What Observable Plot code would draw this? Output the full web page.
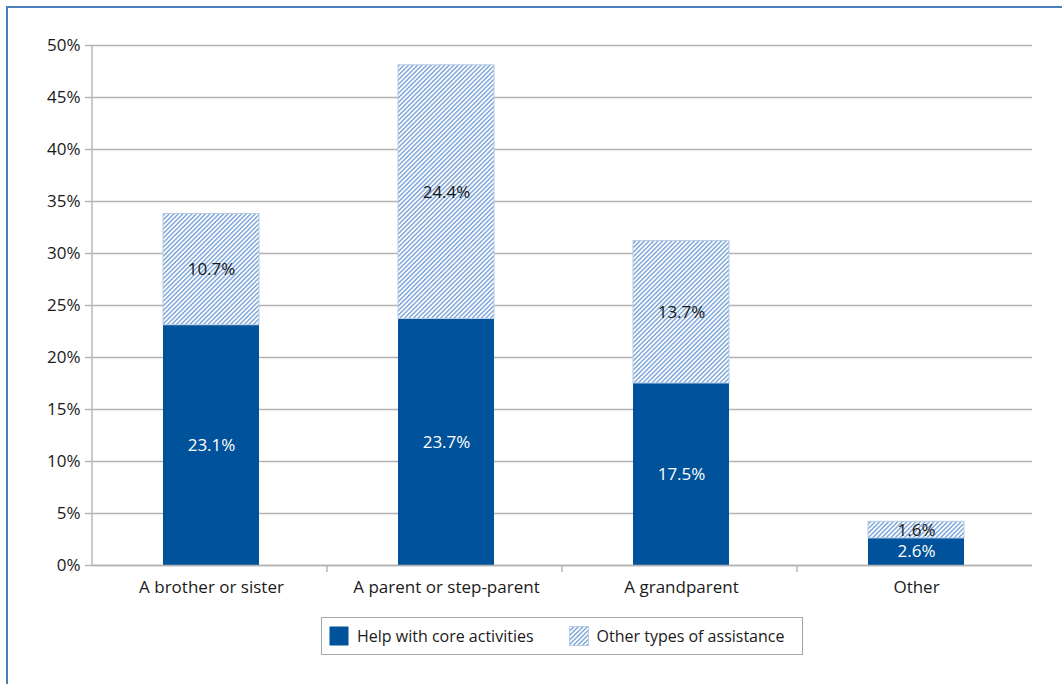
<!DOCTYPE html>
<html>
<head>
<meta charset="utf-8">
<script src="https://cdn.jsdelivr.net/npm/d3@7"></script>
<script src="https://cdn.jsdelivr.net/npm/@observablehq/plot@0.6"></script>
<style>
  html, body { margin: 0; padding: 0; background: #fff; }
  #wrap { position: relative; width: 1062px; height: 684px; overflow: hidden; font-family: "Open Sans", sans-serif; }
  #border { position: absolute; left: 6px; top: 6px; width: 1100px; height: 720px; border: 2px solid #4a7ebb; box-sizing: border-box; }
  #chart { position: absolute; left: 0; top: 0; }
  #legend { position: absolute; left: 321px; top: 617px; width: 482px; height: 38px; box-sizing: border-box;
    border: 1px solid #a6a6a6; display: flex; align-items: center; font-size: 16px; color: #1a1a1a; background: #fff; }
  .item { display: flex; align-items: center; }
  .item svg { display: block; margin-right: 8px; }
</style>
</head>
<body>
<div id="wrap">
  <div id="border"></div>
  <div id="chart"></div>
  <div id="legend"></div>
</div>
<script>
const categories = ["A brother or sister", "A parent or step-parent", "A grandparent", "Other"];
const coreValues = [23.1, 23.7, 17.5, 2.6];
const otherValues = [10.7, 24.4, 13.7, 1.6];
const seriesNames = ["Help with core activities", "Other types of assistance"];
const yTicks = [0, 5, 10, 15, 20, 25, 30, 35, 40, 45, 50];

const DARK = "#00529b";
const HATCH = "#5a8fd0";

const rows = [];
categories.forEach((c, i) => {
  rows.push({cat: c, series: seriesNames[0], y1: 0, y2: coreValues[i], v: coreValues[i]});
  rows.push({cat: c, series: seriesNames[1], y1: coreValues[i], y2: coreValues[i] + otherValues[i], v: otherValues[i]});
});
const coreRows = rows.filter(d => d.series === seriesNames[0]);
const otherRows = rows.filter(d => d.series === seriesNames[1]);

const W = 1062, H = 600;
const mL = 92, mR = 30;
const step = (W - mL - mR) / categories.length;
const barShift = 2;

const chart = Plot.plot({
  width: W,
  height: H,
  marginLeft: mL,
  marginRight: mR,
  marginTop: 45,
  marginBottom: 35,
  style: {fontFamily: "'Open Sans', sans-serif", fontSize: "17px", color: "#1a1a1a", background: "transparent"},
  x: {domain: categories, paddingInner: 0.59, paddingOuter: 0.295, label: null},
  y: {domain: [0, 50], label: null},
  marks: [
    Plot.gridY(yTicks, {stroke: "#b3b3b3", strokeOpacity: 1, strokeWidth: 1.4}),
    Plot.ruleX([categories[0]], {x: d => d, dx: -step / 2, stroke: "#b3b3b3", strokeWidth: 1.4}),
    Plot.ruleX(categories.slice(0, -1), {x: d => d, dx: step / 2, stroke: "#b3b3b3", strokeWidth: 1.4, insetTop: 520, insetBottom: -7}),
    Plot.axisY(yTicks, {tickSize: 7, tickPadding: 5, stroke: "#b3b3b3", strokeWidth: 1.4, fill: "#1a1a1a", tickFormat: d => d + "%", fontSize: 17, label: null}),
    Plot.axisX({tickSize: 0, tickPadding: 15, dx: barShift, fill: "#1a1a1a", fontSize: 17, label: null}),
    Plot.barY(coreRows, {x: "cat", y1: "y1", y2: "y2", fill: DARK, dx: barShift}),
    Plot.barY(otherRows, {x: "cat", y1: "y1", y2: "y2", fill: "url(#hatch)", stroke: "#b8cce4", strokeWidth: 1, dx: barShift}),
    Plot.ruleY([0], {stroke: "#b3b3b3", strokeWidth: 1.4}),
    Plot.text(coreRows, {x: "cat", y: d => (d.y1 + d.y2) / 2, text: d => d.v.toFixed(1) + "%", fill: "white", fontSize: 17, dx: barShift}),
    Plot.text(otherRows, {x: "cat", y: d => (d.y1 + d.y2) / 2, text: d => d.v.toFixed(1) + "%", fill: "#1a1a1a", fontSize: 17, dx: barShift})
  ]
});

// hatch pattern definition
const ns = "http://www.w3.org/2000/svg";
function addHatch(svg, id) {
  const defs = document.createElementNS(ns, "defs");
  const pat = document.createElementNS(ns, "pattern");
  pat.setAttribute("id", id);
  pat.setAttribute("patternUnits", "userSpaceOnUse");
  pat.setAttribute("width", "3.2");
  pat.setAttribute("height", "3.2");
  pat.setAttribute("patternTransform", "rotate(45)");
  const bg = document.createElementNS(ns, "rect");
  bg.setAttribute("width", "3.2"); bg.setAttribute("height", "3.2"); bg.setAttribute("fill", "white");
  const ln = document.createElementNS(ns, "line");
  ln.setAttribute("x1", "0.7"); ln.setAttribute("y1", "0");
  ln.setAttribute("x2", "0.7"); ln.setAttribute("y2", "3.2");
  ln.setAttribute("stroke", HATCH); ln.setAttribute("stroke-width", "1.15");
  pat.appendChild(bg); pat.appendChild(ln);
  defs.appendChild(pat);
  svg.insertBefore(defs, svg.firstChild);
}
addHatch(chart, "hatch");
document.getElementById("chart").appendChild(chart);

// legend
const legend = document.getElementById("legend");
const swatches = [
  {name: seriesNames[0], fill: DARK, stroke: "none", ml: 7},
  {name: seriesNames[1], fill: "url(#hatch2)", stroke: "#b8cce4", ml: 35}
];
swatches.forEach((s, i) => {
  const item = document.createElement("div");
  item.className = "item";
  item.style.marginLeft = s.ml + "px";
  const sv = document.createElementNS(ns, "svg");
  sv.setAttribute("width", "20"); sv.setAttribute("height", "20");
  if (i === 1) addHatch(sv, "hatch2");
  const r = document.createElementNS(ns, "rect");
  r.setAttribute("x", "0.5"); r.setAttribute("y", "0.5");
  r.setAttribute("width", "19"); r.setAttribute("height", "19");
  r.setAttribute("fill", s.fill); r.setAttribute("stroke", s.stroke);
  sv.appendChild(r);
  const t = document.createElement("span");
  t.textContent = s.name;
  item.appendChild(sv); item.appendChild(t);
  legend.appendChild(item);
});
</script>
</body>
</html>
